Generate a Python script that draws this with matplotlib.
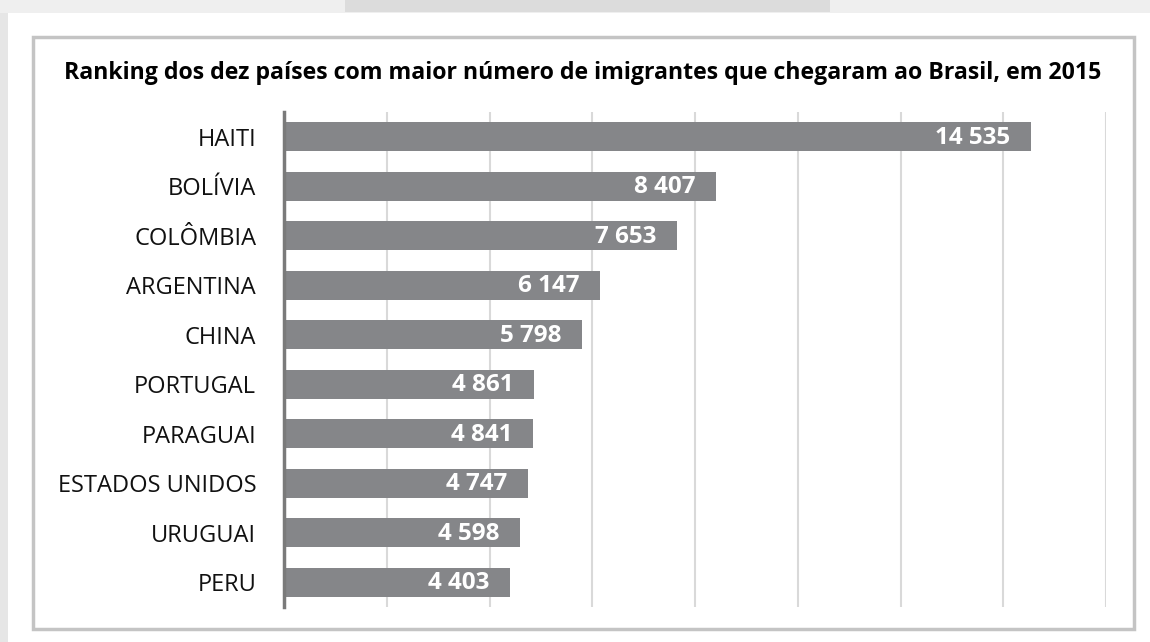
import matplotlib.pyplot as plt
from matplotlib.patches import Rectangle

paises = ['HAITI', 'BOLÍVIA', 'COLÔMBIA', 'ARGENTINA', 'CHINA', 'PORTUGAL',
          'PARAGUAI', 'ESTADOS UNIDOS', 'URUGUAI', 'PERU']
imigrantes = [14535, 8407, 7653, 6147, 5798, 4861, 4841, 4747, 4598, 4403]
ticks_x = [0, 2000, 4000, 6000, 8000, 10000, 12000, 14000, 16000]

plt.rcParams['font.family'] = ['Open Sans', 'DejaVu Sans']

fig = plt.figure(figsize=(11.5, 6.42), dpi=100)
fig.patch.set_facecolor('white')

# fundo cinza claro em cima e sombra do cartão
fig.patches.append(Rectangle((0, 1 - 13 / 642), 1, 13 / 642, transform=fig.transFigure,
                             facecolor='#efefef', edgecolor='none', zorder=0))
fig.patches.append(Rectangle((345 / 1150, 1 - 12 / 642), 485 / 1150, 12 / 642,
                             transform=fig.transFigure, facecolor='#dcdcdc',
                             edgecolor='none', zorder=0))
fig.patches.append(Rectangle((0, 0), 8 / 1150, 1 - 13 / 642, transform=fig.transFigure,
                             facecolor='#e6e6e6', edgecolor='none', zorder=0))
# moldura interna
fig.patches.append(Rectangle((33 / 1150, 1 - 629 / 642), 1101 / 1150, 592 / 642,
                             transform=fig.transFigure, facecolor='none',
                             edgecolor='#c4c4c4', linewidth=2.5, zorder=1))

ax = fig.add_axes([284 / 1150, 1 - 607 / 642, 822 / 1150, 495 / 642])
ax.set_facecolor('none')

pos = list(range(len(paises)))
barras = ax.barh(pos, imigrantes, height=0.59, color='#858689', zorder=3)

for barra, valor in zip(barras, imigrantes):
    rotulo = f"{valor:,}".replace(',', ' ')
    ax.text(barra.get_width() - 400, barra.get_y() + barra.get_height() / 2 + 0.02, rotulo,
            ha='right', va='center', color='white', fontsize=17.5, fontweight='bold',
            zorder=4)

ax.set_xlim(0, 16000)
ax.set_ylim(9.5, -0.5)
ax.set_xticks(ticks_x)
ax.set_xticklabels([])
ax.tick_params(axis='x', length=0)
ax.grid(axis='x', color='#d9d9d9', linewidth=1.5, zorder=0)
ax.axvline(16000, color='#bdbdbd', linewidth=2, zorder=1)

ax.set_yticks(pos)
ax.set_yticklabels(paises, fontsize=17, color='#111111')
ax.tick_params(axis='y', length=0, pad=20)

for lado in ['top', 'right', 'bottom']:
    ax.spines[lado].set_visible(False)
ax.spines['left'].set_color('#7a7a7a')
ax.spines['left'].set_linewidth(2.5)
ax.spines['left'].set_zorder(5)

fig.text(583 / 1150, 1 - 73 / 642,
         'Ranking dos dez países com maior número de imigrantes que chegaram ao Brasil, em 2015',
         ha='center', va='center', fontsize=16.7, fontweight='bold', color='#000000')

fig.savefig('out.png', dpi=100)
